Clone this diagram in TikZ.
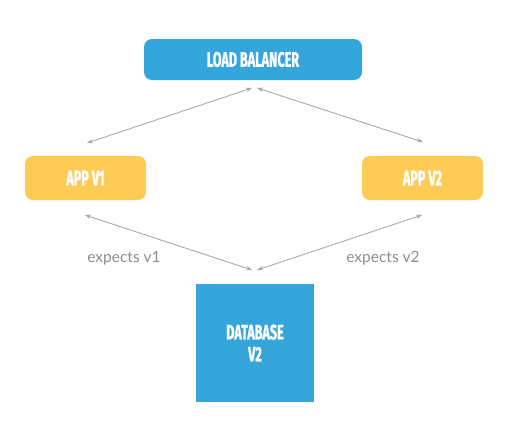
\documentclass[tikz,border=0pt]{standalone}
\usepackage{fontspec}
\setmainfont{Lato}
\newfontfamily\condfont[FakeStretch=0.6,FakeBold=1.0]{Fira Sans}
\usetikzlibrary{arrows.meta}
\definecolor{lbblue}{HTML}{35A6DB}
\definecolor{appyellow}{HTML}{FFCB57}
\definecolor{arrowgray}{HTML}{A8A8A8}
\definecolor{labelgray}{HTML}{8C8C8C}
\tikzset{
  box/.style={draw=none, rounded corners=8pt, inner sep=0pt, align=center,
    text=white, font=\condfont\bfseries\fontsize{21}{22}\selectfont},
  bluebox/.style={box, fill=lbblue},
  appbox/.style={box, fill=appyellow},
  link/.style={draw=arrowgray, line width=0.9pt, {Stealth[length=6pt,width=4.5pt]}-{Stealth[length=6pt,width=4.5pt]}},
  lbl/.style={text=labelgray, font=\fontsize{15.5}{17}\selectfont, inner sep=0pt}
}
\begin{document}
\begin{tikzpicture}[x=1pt,y=-1pt]
\useasboundingbox (0,0) rectangle (511,423);
\node[bluebox, minimum width=218pt, minimum height=41pt] (lb) at (253,59.5) {LOAD BALANCER};
\node[appbox, minimum width=121pt, minimum height=44pt] (v1) at (85.5,178) {APP V1};
\node[appbox, minimum width=121pt, minimum height=44pt] (v2) at (422.5,178) {APP V2};
\node[bluebox, rounded corners=0pt, minimum width=118pt, minimum height=118pt] (db) at (255,343) {DATABASE\\V2};
\coordinate (lbL) at (252,88);
\coordinate (lbR) at (257,88);
\coordinate (v1T) at (87,143);
\coordinate (v2T) at (423,142);
\coordinate (v1B) at (85,215);
\coordinate (v2B) at (422,215);
\coordinate (dbL) at (252,270);
\coordinate (dbR) at (257,270);
\draw[link] (lbL) -- (v1T);
\draw[link] (lbR) -- (v2T);
\draw[link] (v1B) -- (dbL);
\draw[link] (v2B) -- (dbR);
\node[lbl] (e1) at (124,258) {expects v1};
\node[lbl] (e2) at (383,258) {expects v2};
\end{tikzpicture}
\end{document}
